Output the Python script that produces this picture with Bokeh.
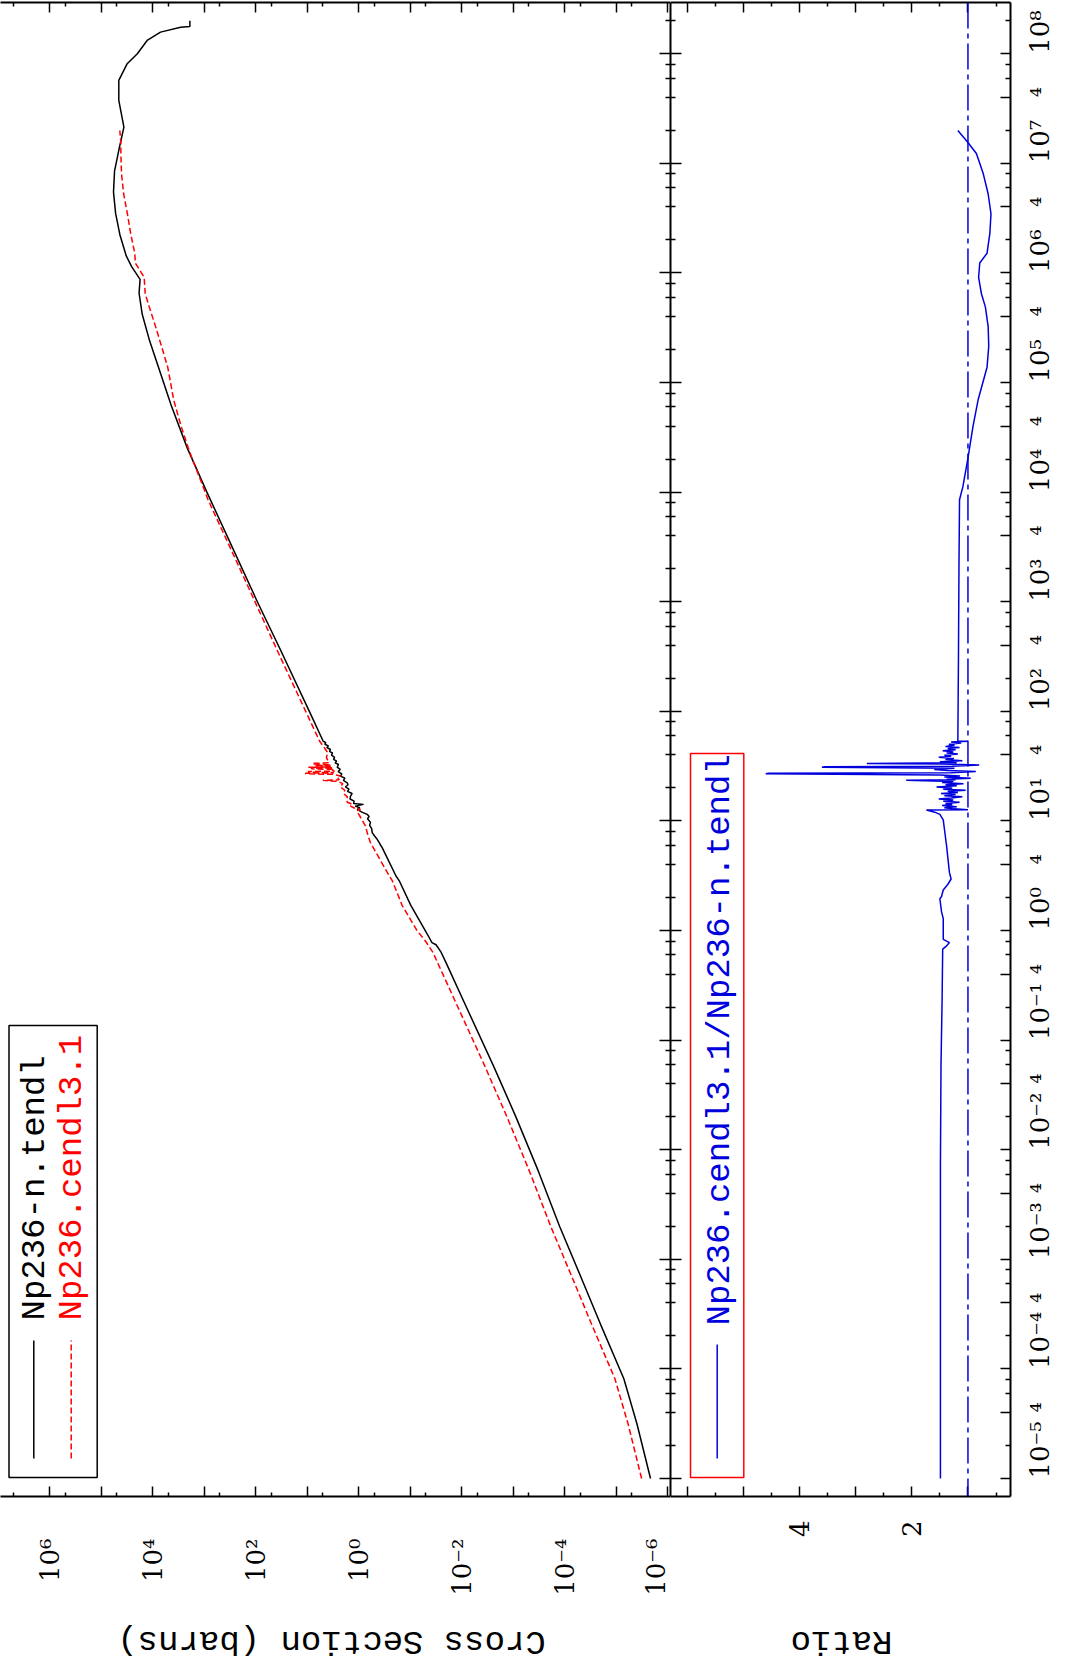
import math
from bokeh.plotting import figure
from bokeh.models import (Range1d, LogAxis, LinearAxis, FixedTicker,
                          CustomJSTickFormatter, Span, BoxAnnotation, Label, Arrow)
from bokeh.layouts import row, column
from bokeh.embed import file_html
from bokeh.resources import INLINE

# ---------------- data (log10 values) ----------------
tendl_logE = [
    -5.000, -4.500, -4.090, -3.600, -3.170, -2.700, -2.200, -1.700, -1.230, -0.700,
    -0.300, -0.200, -0.130, -0.110, -0.050, 0.000, 0.230, 0.450, 0.500,
    0.756, 0.780, 0.800, 0.832, 0.860, 0.893, 0.930, 0.960, 0.987, 1.020,
    1.040, 1.060, 1.080, 1.105, 1.120, 1.135, 1.151, 1.160, 1.180, 1.200,
    1.226, 1.250, 1.270, 1.290, 1.310, 1.330, 1.348, 1.370, 1.390, 1.409,
    1.430, 1.450, 1.470, 1.490, 1.515, 1.530, 1.545, 1.561, 1.580, 1.600,
    1.620, 1.635, 1.652, 1.670, 1.685, 1.700, 1.715, 1.727,
    2.000, 2.560, 3.000, 3.500, 4.000, 4.406, 4.795, 5.086, 5.378, 5.620,
    5.814, 5.941, 6.057, 6.155, 6.349, 6.543, 6.737, 6.931, 7.119, 7.331,
    7.574, 7.757, 7.909, 8.000, 8.121, 8.197, 8.242, 8.249, 8.301]
tendl_logXS = [
    -5.664, -5.400, -5.146, -4.700, -4.320, -3.900, -3.490, -3.050, -2.610, -2.090,
    -1.700, -1.600, -1.500, -1.420, -1.350, -1.290, -1.010, -0.790, -0.720,
    -0.454, -0.420, -0.400, -0.357, -0.310, -0.260, -0.250, -0.210, -0.227, -0.170,
    -0.200, -0.163, -0.060, 0.031, -0.020, 0.070, -0.091, 0.103, 0.090, 0.170,
    0.161, 0.130, 0.220, 0.190, 0.260, 0.210, 0.225, 0.300, 0.270, 0.355,
    0.330, 0.400, 0.360, 0.420, 0.394, 0.460, 0.430, 0.491, 0.470, 0.530,
    0.510, 0.570, 0.550, 0.620, 0.590, 0.660, 0.640, 0.691,
    0.960, 1.520, 1.970, 2.460, 2.950, 3.334, 3.645, 3.852, 4.060, 4.204,
    4.266, 4.247, 4.411, 4.515, 4.639, 4.722, 4.763, 4.742, 4.660, 4.561,
    4.660, 4.660, 4.497, 4.300, 4.110, 3.850, 3.460, 3.280, 3.280]

cendl_logE = [
    -5.000, -4.500, -4.090, -3.600, -3.170, -2.700, -2.200, -1.700, -1.230, -0.700,
    -0.300, -0.200, -0.100, 0.000, 0.230, 0.450, 0.500, 0.740,
    0.800, 0.880, 0.953, 1.020, 1.060, 1.090, 1.105, 1.120, 1.135, 1.150,
    1.170, 1.196, 1.220, 1.250, 1.280, 1.310, 1.340, 1.360, 1.370, 1.375,
    1.400, 1.410, 1.425, 1.430, 1.435, 1.440, 1.445, 1.450, 1.455, 1.460,
    1.470, 1.475, 1.480, 1.485, 1.490, 1.495, 1.500, 1.505, 1.510, 1.520,
    1.525, 1.530, 1.550, 1.580, 1.620, 1.652, 1.690, 1.727,
    2.560, 3.320, 3.930, 4.050, 4.310, 4.406, 4.600, 4.840, 5.140, 5.330,
    5.510, 5.690, 5.810, 5.960, 6.090, 6.180, 6.360, 6.540, 6.720, 6.910,
    7.090, 7.190, 7.300]
cendl_logXS = [
    -5.491, -5.227, -4.973, -4.527, -4.147, -3.727, -3.317, -2.877, -2.440, -1.925,
    -1.536, -1.440, -1.300, -1.130, -0.840, -0.655, -0.590, -0.300,
    -0.227, -0.170, -0.130, -0.050, 0.000, 0.040, -0.033, 0.100, 0.161, 0.120,
    0.220, 0.247, 0.220, 0.300, 0.270, 0.360, 0.310, 0.400, 0.700, 0.380,
    0.420, 0.355, 0.500, 1.030, 1.035, 0.480, 0.950, 0.990, 0.470, 0.520,
    0.470, 0.900, 0.930, 0.500, 0.980, 0.560, 0.550, 0.860, 0.540, 0.880,
    0.905, 0.580, 0.600, 0.630, 0.600, 0.645, 0.700, 0.760,
    1.588, 2.327, 2.927, 3.022, 3.240, 3.312, 3.449, 3.594, 3.710, 3.830,
    3.946, 4.069, 4.147, 4.168, 4.338, 4.350, 4.430, 4.493, 4.566, 4.608,
    4.620, 4.620, 4.640]

ratio_logE = [
    -5.000, -2.140, -1.230, -0.620, -0.170, -0.140, -0.110, -0.080, -0.020, 0.110,
    0.170, 0.290, 0.310, 0.370, 0.420, 0.470, 0.530, 0.770, 0.890, 1.010,
    1.060, 1.080, 1.100, 1.101,
    1.110, 1.120, 1.130, 1.140, 1.150, 1.160, 1.170, 1.180, 1.190, 1.200,
    1.210, 1.220, 1.230, 1.240, 1.250, 1.260, 1.270, 1.280, 1.290, 1.300,
    1.310, 1.320, 1.330, 1.340, 1.350, 1.360, 1.370, 1.375, 1.380, 1.390,
    1.400, 1.410, 1.420, 1.430, 1.435, 1.440, 1.450, 1.460, 1.470, 1.480,
    1.490, 1.495, 1.500, 1.510, 1.520, 1.525, 1.530, 1.540, 1.550, 1.560,
    1.570, 1.580, 1.590, 1.600, 1.610, 1.620, 1.630, 1.640, 1.650, 1.660,
    1.670, 1.680, 1.690, 1.700, 1.710, 1.720, 1.727, 1.728,
    2.410, 3.320, 3.930, 4.050, 4.310, 4.600, 4.840, 5.140, 5.330, 5.510,
    5.690, 5.810, 5.960, 6.090, 6.180, 6.360, 6.540, 6.720, 6.910, 7.090,
    7.190, 7.300]
ratio_val = [
    1.49, 1.49, 1.48, 1.46, 1.45, 1.38, 1.33, 1.44, 1.44, 1.44,
    1.47, 1.50, 1.47, 1.44, 1.36, 1.30, 1.33, 1.38, 1.41, 1.44,
    1.50, 1.59, 1.74, 1.00,
    1.25, 1.42, 1.20, 1.46, 1.28, 1.40, 1.15, 1.44, 1.26, 1.52,
    1.30, 1.10, 1.42, 1.22, 1.48, 1.18, 1.36, 1.04, 1.44, 1.28,
    1.56, 1.20, 1.40, 1.08, 1.46, 1.26, 2.10, 1.22, 1.38, 0.95,
    1.42, 1.14, 1.50, 4.60, 4.55, 1.30, 0.86, 1.36, 1.60, 1.24,
    3.60, 3.55, 1.28, 0.80, 1.45, 2.80, 1.20, 1.50, 1.10, 1.40,
    1.25, 1.52, 1.30, 1.42, 1.18, 1.38, 1.26, 1.45, 1.22, 1.36,
    1.15, 1.40, 1.24, 1.34, 1.12, 1.30, 1.00, 1.18,
    1.17, 1.16, 1.15, 1.09, 1.00, 0.91, 0.82, 0.66, 0.63, 0.64,
    0.69, 0.76, 0.81, 0.79, 0.66, 0.61, 0.59, 0.64, 0.73, 0.85,
    1.00, 1.18]

# ---------------- ticks and tick labels ----------------
xs_ticks = [1e-6, 1e-5, 1e-4, 1e-3, 1e-2, 1e-1, 1e0, 1e1, 1e2, 1e3, 1e4, 1e5, 1e6]
xs_tick_labels = ["10⁻⁶", "", "10⁻⁴", "", "10⁻²", "", "10⁰", "", "10²", "", "10⁴", "", "10⁶"]
xs_minor = [5e-6, 5e-5, 5e-4, 5e-3, 5e-2, 5e-1, 5e0, 5e1, 5e2, 5e3, 5e4, 5e5, 5e6]

e_decades = [1e-5, 1e-4, 1e-3, 1e-2, 1e-1, 1e0, 1e1, 1e2, 1e3, 1e4, 1e5, 1e6, 1e7, 1e8]
e_decade_labels = ["10⁻⁵", "10⁻⁴", "10⁻³", "10⁻²", "10⁻¹", "10⁰", "10¹",
                   "10²", "10³", "10⁴", "10⁵", "10⁶", "10⁷", "10⁸"]
e_fours = [4e-5, 4e-4, 4e-3, 4e-2, 4e-1, 4e0, 4e1, 4e2, 4e3, 4e4, 4e5, 4e6, 4e7]
e_four_labels = ["⁴"] * len(e_fours)
e_mult_minor = [2, 6, 8]

ratio_ticks = [1, 2, 3, 4, 5, 6]
ratio_tick_labels = ["", "2", "", "4", "", ""]
ratio_minor = [0.5, 1.5, 2.5, 3.5, 4.5, 5.5]

legend_main = ["Np236-n.tendl", "Np236.cendl3.1"]
legend_ratio = "Np236.cendl3.1/Np236-n.tendl"
xs_title = "Cross Section (barns)"
ratio_title = "Ratio"

# ---------------- geometry (page has no margin) ----------------
W1, W2 = 670, 403          # widths of main / ratio columns
H = 1598                   # height of the plot row
HT = 64                    # height of the title row
RB2 = 62                   # right border of ratio panel
LOGXS_L, LOGXS_R = 6.957, -6.052     # main x (cross section) range, left->right
R_L, R_R = 6.296, 0.2425             # ratio range, left->right
LOGE_B, LOGE_T = -5.164, 8.4674      # energy range, bottom->top

E_RANGE = Range1d(10 ** LOGE_B, 10 ** LOGE_T)
XS_RANGE = Range1d(10 ** LOGXS_L, 10 ** LOGXS_R)
R_RANGE = Range1d(R_L, R_R)

SERIF = "DejaVu Serif"
MONO = "Liberation Mono"
TICK_SIZE = "26px"
TEXT_SIZE = "34px"
BLUE = "#0000dd"
RED = "#ff0000"

tendl_E = [10 ** v for v in tendl_logE]
tendl_XS = [10 ** v for v in tendl_logXS]
cendl_E = [10 ** v for v in cendl_logE]
cendl_XS = [10 ** v for v in cendl_logXS]
ratio_E = [10 ** v for v in ratio_logE]

LOG_FMT_CODE = """
let best = -1, bd = 1e9;
for (let i = 0; i < vals.length; i++) {
  const d = Math.abs(Math.log10(vals[i]) - Math.log10(tick));
  if (d < bd) { bd = d; best = i; }
}
return (best >= 0 && bd < 0.01) ? labs[best] : "";
"""
LIN_FMT_CODE = """
let best = -1, bd = 1e9;
for (let i = 0; i < vals.length; i++) {
  const d = Math.abs(vals[i] - tick);
  if (d < bd) { bd = d; best = i; }
}
return (best >= 0 && bd < 1e-6) ? labs[best] : "";
"""


def style_axis(ax, tick_in=10, minor_in=4):
    ax.axis_line_color = "black"
    ax.axis_line_width = 2
    ax.major_tick_line_color = "black"
    ax.major_tick_line_width = 1.5
    ax.minor_tick_line_color = "black"
    ax.minor_tick_line_width = 1.5
    ax.major_tick_in = tick_in
    ax.major_tick_out = 0
    ax.minor_tick_in = minor_in
    ax.minor_tick_out = 0


def no_labels(ax):
    ax.formatter = CustomJSTickFormatter(code="return '';")
    ax.major_label_text_font_size = "0px"
    ax.major_label_standoff = 0


def tick_labels(ax, standoff):
    ax.major_label_orientation = math.pi / 2
    ax.major_label_text_font = SERIF
    ax.major_label_text_font_size = TICK_SIZE
    ax.major_label_text_color = "black"
    ax.major_label_standoff = standoff


def screen_label(text, x, y, color, angle=math.pi / 2, align="left"):
    return Label(x=x, y=y, x_units="screen", y_units="screen", text=text,
                 angle=angle, text_font=MONO, text_font_size=TEXT_SIZE,
                 text_color=color, text_align=align, text_baseline="middle")


def screen_box(left, right, bottom, top, color):
    return BoxAnnotation(left=left, right=right, bottom=bottom, top=top,
                         left_units="screen", right_units="screen",
                         bottom_units="screen", top_units="screen",
                         fill_color=None, fill_alpha=0,
                         line_color=color, line_alpha=1.0, line_width=1.5)


def screen_vline(x, y0, y1, color, dash="solid"):
    return Arrow(start=None, end=None, x_start=x, y_start=y0, x_end=x, y_end=y1,
                 start_units="screen", end_units="screen",
                 line_color=color, line_width=1.5, line_dash=dash)


def title_strip(width, text, cx):
    # a blank strip under a panel that carries its upside-down axis title
    t = figure(width=width, height=HT, x_range=Range1d(0, 1), y_range=Range1d(0, 1),
               x_axis_location=None, y_axis_location=None,
               output_backend="svg", toolbar_location=None,
               min_border_left=0, min_border_right=0, min_border_top=0, min_border_bottom=0)
    t.grid.visible = False
    t.outline_line_color = None
    t.add_layout(screen_label(text, cx, 22, "black", angle=math.pi, align="center"))
    return t


e_minor = [m * d for d in e_decades for m in [2, 4, 6, 8]]
e_minor_right = [m * d for d in e_decades for m in e_mult_minor]

# ---------------- main panel ----------------
p1 = figure(width=W1, height=H, x_range=XS_RANGE, y_range=E_RANGE,
            x_axis_type="log", y_axis_type="log",
            x_axis_location=None, y_axis_location=None,
            output_backend="svg", toolbar_location=None,
            min_border_left=0, min_border_right=0, min_border_top=2, min_border_bottom=100)
p1.grid.visible = False
p1.outline_line_color = None

ax = LogAxis(ticker=FixedTicker(ticks=xs_ticks, minor_ticks=xs_minor),
             formatter=CustomJSTickFormatter(args=dict(vals=xs_ticks, labs=xs_tick_labels),
                                             code=LOG_FMT_CODE))
style_axis(ax, 10, 4)
tick_labels(ax, 42)
p1.add_layout(ax, "below")

ax = LogAxis(ticker=FixedTicker(ticks=xs_ticks, minor_ticks=xs_minor))
style_axis(ax, 10, 4)
no_labels(ax)
p1.add_layout(ax, "above")

ax = LogAxis(ticker=FixedTicker(ticks=e_decades, minor_ticks=e_minor))
style_axis(ax, 11, 5)
no_labels(ax)
p1.add_layout(ax, "right")

p1.line(x=tendl_XS, y=tendl_E, line_color="black", line_width=1.5)
p1.line(x=cendl_XS, y=cendl_E, line_color=RED, line_width=1.5, line_dash="6 3")

p1.add_layout(screen_box(8.5, 96.7, 19, 471, "black"))
p1.add_layout(screen_vline(33.3, 38, 156, "black"))
p1.add_layout(screen_vline(70.7, 38, 156, RED, "6 3"))
p1.add_layout(screen_label(legend_main[0], 34, 176, "black"))
p1.add_layout(screen_label(legend_main[1], 71, 176, RED))

# ---------------- ratio panel ----------------
p2 = figure(width=W2, height=H, x_range=R_RANGE, y_range=E_RANGE,
            x_axis_type="linear", y_axis_type="log",
            x_axis_location=None, y_axis_location=None,
            output_backend="svg", toolbar_location=None,
            min_border_left=0, min_border_right=RB2, min_border_top=2, min_border_bottom=100)
p2.grid.visible = False
p2.outline_line_color = None

ax = LinearAxis(ticker=FixedTicker(ticks=ratio_ticks, minor_ticks=ratio_minor),
                formatter=CustomJSTickFormatter(args=dict(vals=ratio_ticks, labs=ratio_tick_labels),
                                                code=LIN_FMT_CODE))
style_axis(ax, 10, 4)
tick_labels(ax, 24)
p2.add_layout(ax, "below")

ax = LinearAxis(ticker=FixedTicker(ticks=ratio_ticks, minor_ticks=ratio_minor))
style_axis(ax, 10, 4)
no_labels(ax)
p2.add_layout(ax, "above")

ax = LogAxis(ticker=FixedTicker(ticks=e_decades, minor_ticks=e_minor))
style_axis(ax, 11, 5)
no_labels(ax)
p2.add_layout(ax, "left")

e_all = e_decades + e_fours
e_all_labels = e_decade_labels + e_four_labels
ax = LogAxis(ticker=FixedTicker(ticks=e_all, minor_ticks=e_minor_right),
             formatter=CustomJSTickFormatter(args=dict(vals=e_all, labs=e_all_labels),
                                             code=LOG_FMT_CODE))
style_axis(ax, 10, 5)
tick_labels(ax, 30)
p2.add_layout(ax, "right")

p2.add_layout(Span(location=1.0, dimension="height", line_color=BLUE,
                   line_width=1.5, line_dash="26 5 5 5"))
p2.line(x=ratio_val, y=ratio_E, line_color=BLUE, line_width=1.5)

p2.add_layout(screen_box(20, 73.3, 19, 743, RED))
p2.add_layout(screen_vline(46.7, 38, 152, BLUE))
p2.add_layout(screen_label(legend_ratio, 49, 171, BLUE))

# ---------------- axis titles (upside down, below the panels) ----------------
t1 = title_strip(W1, xs_title, 331)
t2 = title_strip(W2, ratio_title, 841 - W1)

layout = column(row(p1, p2), row(t1, t2))
open("out.html", "w").write(file_html(layout, INLINE))
